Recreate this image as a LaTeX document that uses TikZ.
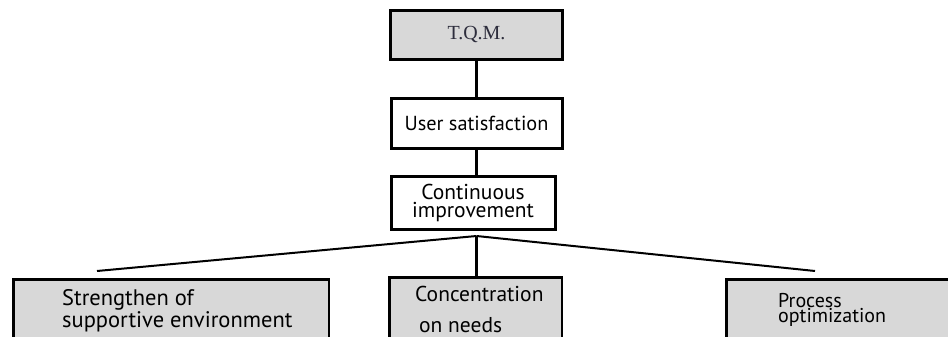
\documentclass[tikz,border=0pt]{standalone}
\usepackage{fontspec}
\setmainfont{Liberation Serif}
\setsansfont{PT Sans}
\usepackage{tikz}
\usetikzlibrary{positioning}
\definecolor{boxgray}{RGB}{216,216,216}
\definecolor{tqmtext}{RGB}{45,45,60}

\begin{document}
\begin{tikzpicture}[
            x = 1pt, y = -1pt,
            every node/.style = {
                draw,
                rectangle,
                align = center,
                inner sep = 0pt,
                font = \sffamily
            },
            topbox/.style = {
                fill = boxgray,
                line width = 3.3pt,
                minimum width = 172pt,
                minimum height = 49pt,
                text = tqmtext,
                font = \rmfamily\fontsize{20}{22}\selectfont
            },
            midbox/.style = {
                fill = white,
                line width = 3pt
            },
            leafbox/.style = {
                fill = boxgray,
                line width = 2.5pt,
                minimum height = 90pt,
                anchor = north west
            },
            leaftext/.style = {
                draw = none,
                align = left,
                anchor = base west
            },
            link/.style = {line width = 3.2pt},
            branch/.style = {line width = 2pt}
        ]
            \useasboundingbox (0,0) rectangle (948,337);
            \clip (0,0) rectangle (948,337);

            % chain of the upper boxes
            \node[topbox] (tqm) at (476.5,35) {T.Q.M.};
            \node[midbox, below = 36pt of tqm, minimum width = 171pt, minimum height = 50pt,
                  font = \sffamily\fontsize{20.3}{20}\selectfont] (user) {User satisfaction};
            \node[midbox, below = 25pt of user, xshift = -3.5pt, minimum width = 164pt, minimum height = 53pt,
                  font = \sffamily\fontsize{21.5}{18}\selectfont] (cont) {Continuous\\improvement};

            % lower row
            \node[leafbox, minimum width = 315.5pt] (strength) at (12,278) {};
            \node[leafbox, minimum width = 172.5pt] (conc) at (388,276) {};
            \node[leafbox, minimum width = 260pt] (proc) at (725,278) {};

            % texts of the lower row, placed by the baseline of their last line
            \node[leaftext, font = \sffamily\fontsize{22.5}{19.6}\selectfont] (strengthtxt) at (62,327.3)
                {Strengthen of\\supportive environment};
            \node[leaftext, font = \sffamily\fontsize{21.5}{31}\selectfont] (conctxt) at (415,332.5)
                {Concentration\\\hspace*{4pt}on needs};
            \node[leaftext, font = \sffamily\fontsize{20}{15}\selectfont] (proctxt) at (778,322)
                {Process\\optimization};

            % connectors
            \coordinate (fork) at (476.5,236);
            \coordinate (leftend) at (97,271);
            \coordinate (rightend) at (815,271);

            \draw[link] (tqm) -- (tqm |- user.north);
            \draw[link] (user.south -| tqm) -- (tqm |- cont.north);
            \draw[branch] (fork) -- (leftend);
            \draw[branch] (fork) -- (rightend);
            \draw[link] (fork) -- (fork |- conc.north);
        \end{tikzpicture}
\end{document}
